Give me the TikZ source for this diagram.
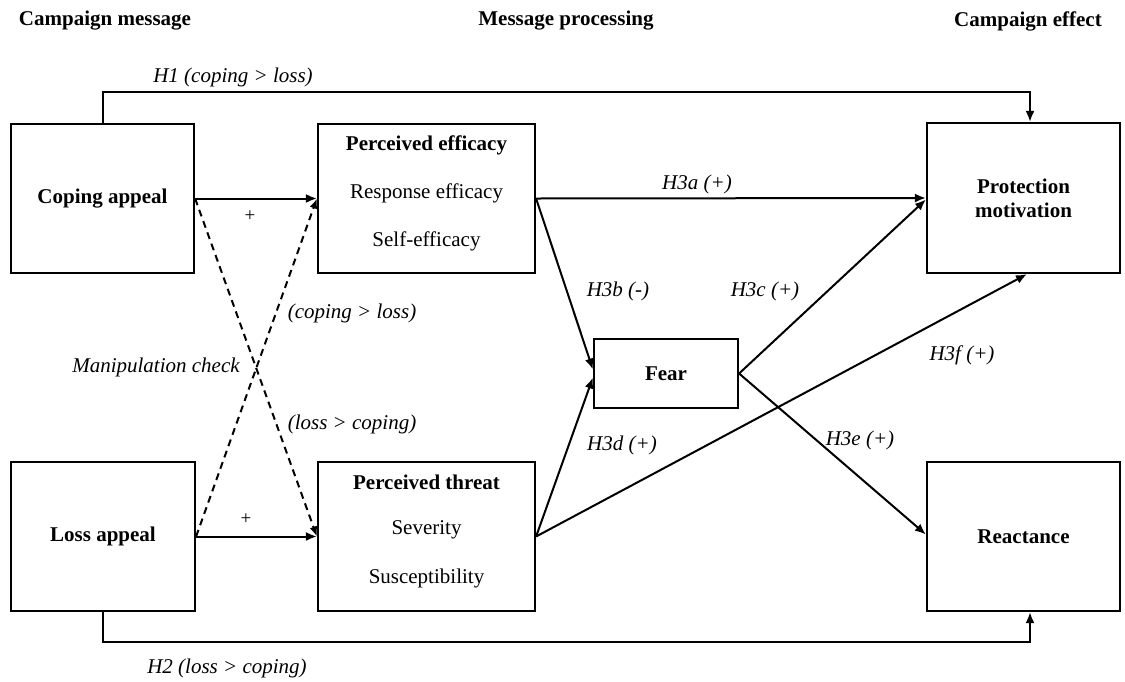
\documentclass[tikz,border=0pt]{standalone}
\usepackage{fontspec}
\setmainfont{Liberation Serif}
\usetikzlibrary{arrows.meta,calc}
\begin{document}
\begin{tikzpicture}[x=1pt,y=-1pt,
  every node/.style={font=\fontsize{21}{25}\selectfont, inner sep=0pt},
  box/.style={draw, line width=2.2pt, align=center},
  head/.style={font=\fontsize{21}{25}\selectfont\bfseries},
  lab/.style={font=\fontsize{21}{25}\selectfont\itshape},
  plus/.style={font=\fontsize{19}{22}\selectfont},
  conn/.style={line width=2pt},
  arr/.style={conn, -{Latex[length=11pt,width=9pt]}},
  darr/.style={line width=2pt, dash pattern=on 7pt off 5pt, -{Latex[length=10pt,width=8pt]}}
]
\useasboundingbox (0,0) rectangle (1125,681);

% column headings
\node[head] (h-msg) at (105,21) {Campaign message};
\node[head] (h-proc) at (566,21) {Message processing};
\node[head] (h-eff) at (1028,21) {Campaign effect};

% boxes
\node[box, minimum width=183pt, minimum height=149pt] (coping) at (102.5,198.5) {\bfseries Coping appeal};
\node[box, minimum width=184pt, minimum height=149pt] (loss) at (103,536.5) {\bfseries Loss appeal};
\node[box, minimum width=217pt, minimum height=149pt] (efficacy) at (426.5,198.5) {};
\node[box, minimum width=217pt, minimum height=149pt] (threat) at (426.5,536.5) {};
\node[box, minimum width=144pt, minimum height=69pt] (fear) at (666,373.5) {\bfseries Fear};
\node[box, minimum width=193pt, minimum height=150pt, font=\fontsize{21}{24}\selectfont\bfseries] (protection) at (1023.5,198) {Protection\\motivation};
\node[box, minimum width=193pt, minimum height=149pt] (reactance) at (1023.5,536.5) {\bfseries Reactance};

% box contents
\node[head] (t-pe) at (426.5,145) {Perceived efficacy};
\node (t-re) at (426.5,193) {Response efficacy};
\node (t-se) at (426.5,241) {Self-efficacy};
\node[head] (t-pt) at (426.5,482) {Perceived threat};
\node (t-sev) at (426.5,530) {Severity};
\node (t-sus) at (426.5,578) {Susceptibility};

% H1 and H2
\coordinate (h1) at (1030,92);
\coordinate (h2) at (1030,642);
\draw[arr] (coping.north) |- (h1) -- (protection.north -| h1);
\draw[arr] (loss.south) |- (h2) -- (reactance.south -| h2);
\node[lab] (l-h1) at (233,77) {H1 (coping > loss)};
\node[lab] (l-h2) at (227,668) {H2 (loss > coping)};

% appeal -> perception
\draw[arr] (coping.east) -- (efficacy.west);
\draw[arr] (loss.east) -- (threat.west);
\node[plus] (p1) at (250,216) {+};
\node[plus] (p2) at (246,519) {+};

% manipulation check
\draw[darr] (coping.east) -- (threat.west);
\draw[darr] (loss.east) -- (efficacy.west);
\node[lab] (l-cl) at (352,313) {(coping > loss)};
\node[lab] (l-mc) at (156,367) {Manipulation check};
\node[lab] (l-lc) at (352,424) {(loss > coping)};

% H3 paths
\draw[arr] (efficacy.east) -- (protection.west);
\draw[arr] (efficacy.east) -- ([yshift=4pt]fear.west);
\draw[arr] (threat.east) -- ([yshift=-4pt]fear.west);
\draw[arr] (threat.east) -- ([xshift=3.5pt]protection.south);
\draw[arr] (fear.east) -- ([yshift=-1.5pt]protection.west);
\draw[arr] (fear.east) -- ([yshift=2pt]reactance.west);

\node[lab] (l-3a) at (697,184) {H3a (+)};
\node[lab] (l-3b) at (618,291) {H3b (-)};
\node[lab] (l-3c) at (765,291) {H3c (+)};
\node[lab] (l-3d) at (622,445) {H3d (+)};
\node[lab] (l-3e) at (860,440) {H3e (+)};
\node[lab] (l-3f) at (962,355) {H3f (+)};
\end{tikzpicture}
\end{document}
